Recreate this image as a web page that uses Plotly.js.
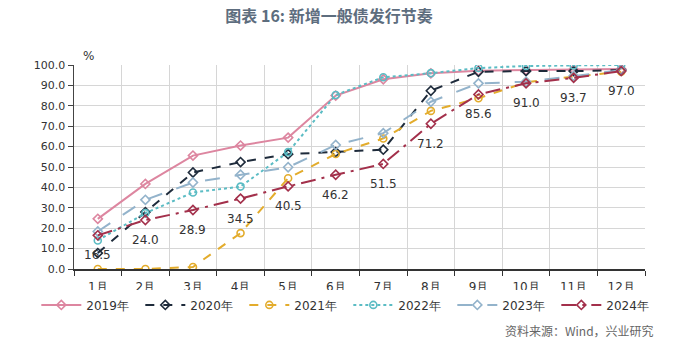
<!DOCTYPE html>
<html>
<head>
<meta charset="utf-8">
<script src="https://cdn.plot.ly/plotly-3.0.1.min.js"></script>
<style>html,body{margin:0;padding:0;background:#fff;}#chart{width:700px;height:352px;}</style>
</head>
<body>
<div id="chart"></div>
<script>
const months = ['1月','2月','3月','4月','5月','6月','7月','8月','9月','10月','11月','12月'];
const y2019 = [24.6, 41.7, 55.6, 60.5, 64.4, 85.0, 93.0, 95.9, 97.2, 97.5, 97.8, 98.0];
const y2020 = [7.8, 27.9, 47.3, 52.4, 56.3, 57.3, 58.5, 87.4, 96.7, 97.0, 97.0, 97.5];
const y2021 = [0.0, 0.0, 1.0, 17.6, 44.5, 56.4, 64.0, 77.5, 83.7, 91.5, 94.3, 96.7];
const y2022 = [14.0, 27.4, 37.5, 40.4, 57.3, 85.3, 94.0, 96.0, 98.5, 99.5, 99.8, 100.0];
const y2023 = [18.4, 33.9, 42.4, 46.2, 49.9, 60.8, 66.6, 82.0, 91.0, 91.8, 94.6, 97.4];
const y2024 = [16.5, 24.0, 28.9, 34.5, 40.5, 46.2, 51.5, 71.2, 85.6, 91.0, 93.7, 97.0];
const seriesNames = ['2019年','2020年','2021年','2022年','2023年','2024年'];
const yTicks = [0,10,20,30,40,50,60,70,80,90,100];

const styles = [
  {color:'#dd86a0', dash:'solid', symbol:'diamond-open', width:2},
  {color:'#1e2b3b', dash:'dash', symbol:'diamond-open', width:2},
  {color:'#e3ac2c', dash:'dash', symbol:'circle-open', width:2},
  {color:'#5bbcc4', dash:'dot', symbol:'circle-open', width:2},
  {color:'#93b3cb', dash:'longdash', symbol:'diamond-open', width:2},
  {color:'#a3304b', dash:'longdashdot', symbol:'diamond-open', width:2}
];
const allY = [y2019, y2020, y2021, y2022, y2023, y2024];

const traces = allY.map((ys, i) => ({
  type:'scatter', mode:'lines+markers', name: seriesNames[i],
  x: months, y: ys,
  line:{color:styles[i].color, dash:styles[i].dash, width:styles[i].width},
  marker:{symbol:styles[i].symbol, size:7, color:styles[i].color, line:{width:1.6, color:styles[i].color}}
}));

const annotations = months.map((m, i) => ({
  x: m, y: y2024[i], xref:'x', yref:'y', text: y2024[i].toFixed(1),
  showarrow:false, yshift:-20, xanchor:'center', yanchor:'middle',
  font:{family:'DejaVu Sans, sans-serif', size:12, color:'#333'}
}));
annotations.push({
  xref:'paper', yref:'paper', x:0.012, y:1.0, xanchor:'left', yanchor:'bottom',
  text:'%', showarrow:false, font:{family:'DejaVu Sans, sans-serif', size:12, color:'#333'}
});
annotations.push({
  xref:'paper', yref:'paper', x:1.02, y:-0.3, xanchor:'right', yanchor:'middle',
  text:'资料来源：Wind，兴业研究', showarrow:false,
  font:{family:'Noto Sans CJK SC, sans-serif', size:12, color:'#666'}
});

const layout = {
  width:700, height:352,
  margin:{l:74, r:55, t:65, b:83},
  paper_bgcolor:'#fff', plot_bgcolor:'#fff',
  title:{text:'<b>图表 16: 新增一般债发行节奏</b>', x:0.47, xanchor:'center', y:0.952, yanchor:'middle',
    font:{family:'Noto Sans CJK SC, sans-serif', size:16, color:'#5d6d7e'}},
  xaxis:{type:'category', tickson:'boundaries', ticks:'outside', ticklen:5, tickcolor:'#333',
    showgrid:true, gridcolor:'#d6d6d6', showline:true, linecolor:'#333', linewidth:1.5,
    ticklabelstandoff:6,
    tickfont:{family:'DejaVu Sans, sans-serif', size:12, color:'#333'}, range:[-0.5, 11.5], fixedrange:true},
  yaxis:{range:[0,100], tickvals:yTicks, ticktext:yTicks.map(v=>v.toFixed(1)),
    ticks:'outside', ticklen:5, tickcolor:'#444', showline:true, linecolor:'#444', linewidth:1.5,
    showgrid:true, gridcolor:'#d6d6d6', zeroline:false,
    tickfont:{family:'DejaVu Sans, sans-serif', size:11, color:'#333'}},
  legend:{orientation:'h', x:-0.066, xanchor:'left', y:-0.105, yanchor:'top',
    entrywidth:49, itemwidth:40, font:{family:'DejaVu Sans, sans-serif', size:12, color:'#333'}},
  annotations: annotations,
  showlegend:true
};
Plotly.newPlot('chart', traces, layout, {displayModeBar:false, staticPlot:true});
</script>
</body>
</html>
